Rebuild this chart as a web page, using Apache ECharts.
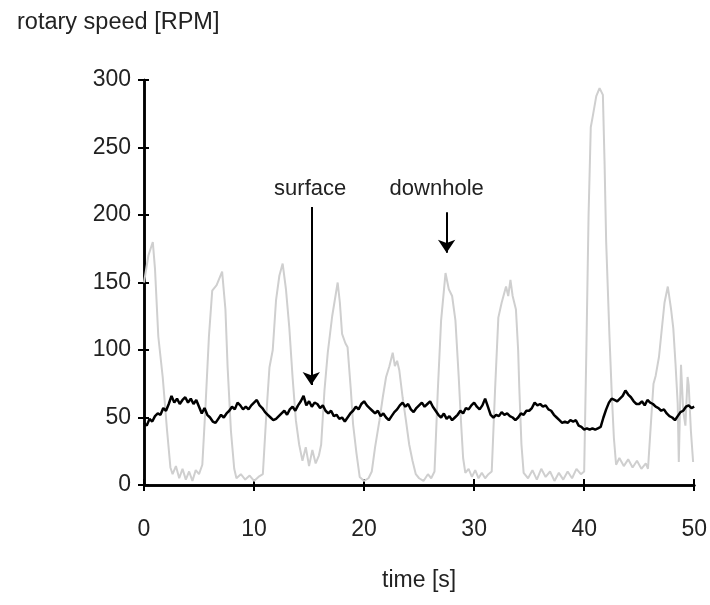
<!DOCTYPE html>
<html>
<head>
<meta charset="utf-8">
<script src="https://cdn.jsdelivr.net/npm/echarts@6/dist/echarts.min.js"></script>
<style>html,body{margin:0;padding:0;background:#fff}#c{width:710px;height:605px}</style>
</head>
<body>
<div id="c"></div>
<script>
// ---- data ----
const xTicks = [0, 10, 20, 30, 40, 50];
const yTicks = [0, 50, 100, 150, 200, 250, 300];

const downholeTime = [0,0.4,0.8,1.0,1.3,1.7,2.1,2.4,2.6,2.9,3.2,3.5,3.8,4.1,4.4,4.7,5.0,5.3,5.6,5.9,6.2,6.6,7.1,7.4,7.6,7.9,8.2,8.4,8.8,9.2,9.6,10.0,10.4,10.8,11.1,11.4,11.7,12.0,12.3,12.6,12.9,13.2,13.5,13.8,14.1,14.4,14.7,15.0,15.3,15.6,15.9,16.1,16.4,16.7,17.1,17.6,17.8,18.0,18.3,18.5,18.8,19.0,19.3,19.6,20.0,20.4,20.7,21.0,21.4,21.7,22.0,22.3,22.6,22.8,23.0,23.2,23.5,23.8,24.1,24.4,24.7,25.0,25.4,25.8,26.1,26.4,26.7,27.0,27.4,27.7,28.0,28.3,28.6,28.8,29.0,29.2,29.5,29.8,30.1,30.4,30.7,31.0,31.3,31.6,31.9,32.2,32.5,32.9,33.1,33.3,33.5,33.8,34.0,34.1,34.3,34.5,34.9,35.3,35.7,36.1,36.5,36.9,37.3,37.7,38.1,38.5,38.9,39.3,39.7,40.0,40.2,40.4,40.6,40.8,41.1,41.4,41.7,41.85,42.0,42.3,42.5,42.7,42.9,43.2,43.6,44.0,44.4,44.8,45.2,45.6,45.8,46.1,46.3,46.5,46.8,47.0,47.3,47.6,47.9,48.1,48.3,48.5,48.6,48.8,49.0,49.2,49.4,49.5,49.7,49.9];
const downholeRpm = [150,170,180,160,110,80,40,13,8,14,5,12,4,10,3,11,8,15,60,110,144,148,158,130,87,40,12,5,8,4,7,3,6,8,50,87,100,137,155,164,145,117,80,48,30,18,28,14,26,16,22,30,70,98,125,150,135,112,105,102,70,45,24,6,3,5,10,28,48,65,80,88,98,88,92,85,65,48,30,18,8,5,3,8,5,10,70,122,157,145,140,122,80,48,20,9,12,6,11,5,9,5,8,10,70,124,135,147,140,152,140,130,100,73,30,9,5,11,4,12,6,10,3,9,4,10,5,12,8,10,100,200,265,274,288,294,289,240,180,110,69,35,15,20,14,19,13,18,12,16,12,50,75,81,95,111,135,147,130,116,90,60,17,89,55,44,80,74,40,17];

const surfaceTime = [0,0.25,0.5,0.75,1,1.25,1.5,1.75,2,2.25,2.5,2.75,3,3.25,3.5,3.75,4,4.25,4.5,4.75,
5,5.25,5.5,5.75,6,6.25,6.5,6.75,7,7.25,7.5,7.75,8,8.25,8.5,8.75,9,9.25,9.5,9.75,
10,10.25,10.5,10.75,11,11.25,11.5,11.75,12,12.25,12.5,12.75,13,13.25,13.5,13.75,14,14.25,14.5,14.75,
15,15.25,15.5,15.75,16,16.25,16.5,16.75,17,17.25,17.5,17.75,18,18.25,18.5,18.75,19,19.25,19.5,19.75,
20,20.25,20.5,20.75,21,21.25,21.5,21.75,22,22.25,22.5,22.75,23,23.25,23.5,23.75,24,24.25,24.5,24.75,
25,25.25,25.5,25.75,26,26.25,26.5,26.75,27,27.25,27.5,27.75,28,28.25,28.5,28.75,29,29.25,29.5,29.75,
30,30.25,30.5,30.75,31,31.25,31.5,31.75,32,32.25,32.5,32.75,33,33.25,33.5,33.75,34,34.25,34.5,34.75,
35,35.25,35.5,35.75,36,36.25,36.5,36.75,37,37.25,37.5,37.75,38,38.25,38.5,38.75,39,39.25,39.5,39.75,
40,40.25,40.5,40.75,41,41.25,41.5,41.75,42,42.25,42.5,42.75,43,43.25,43.5,43.75,44,44.25,44.5,44.75,
45,45.25,45.5,45.75,46,46.25,46.5,46.75,47,47.25,47.5,47.75,48,48.25,48.5,48.75,49,49.25,49.5,49.75,50];
const surfaceRpm = [46,44,49,47,51,53,52,57,55,60,66,61,64,60,63,65,61,64,60,63,
58,53,57,52,50,47,46,49,52,50,53,55,58,56,61,59,56,58,56,59,
61,63,59,57,54,52,50,48,49,51,53,55,52,56,58,55,59,62,66,59,
62,58,61,60,57,59,55,53,55,51,52,49,50,47,50,53,55,58,56,60,
62,59,57,55,53,55,51,53,50,48,51,54,56,59,61,58,60,56,54,57,
59,61,58,60,62,58,55,52,50,53,49,51,48,50,52,55,53,57,56,59,
61,58,56,59,64,58,52,50,52,51,54,52,53,51,50,48,50,53,52,55,
55,57,61,59,60,58,59,56,55,52,50,48,46,47,46,48,47,48,44,43,
41,42,41,42,41,42,43,50,56,61,64,63,62,64,66,70,67,65,62,60,
60,62,59,63,61,60,58,57,55,56,53,51,50,48,51,54,55,58,59,57,58];

const annotations = [
  {name: 'surface', textT: 15.1, textV: 219, arrowT: 15.2, fromV: 206, toV: 74},
  {name: 'downhole', textT: 26.6, textV: 219, arrowT: 27.5, fromV: 202, toV: 172}
];

// ---- chart ----
const FONT = "'Liberation Sans Narrow', 'Liberation Sans', Arial, sans-serif";
const pair = (ts, vs) => ts.map((t, i) => [t, vs[i]]);
const chart = echarts.init(document.getElementById('c'), null, {renderer: 'canvas'});

const axisLine = {show: true, onZero: false, lineStyle: {color: '#000', width: 2.5}};
const baseX = {
  type: 'value', min: xTicks[0], max: xTicks[xTicks.length - 1], interval: 10,
  splitLine: {show: false}, axisLine: axisLine
};
const baseY = {
  type: 'value', min: yTicks[0], max: yTicks[yTicks.length - 1], interval: 50,
  splitLine: {show: false}, axisLine: axisLine
};

chart.setOption({
  animation: false,
  backgroundColor: '#fff',
  grid: {left: 144, right: 14, top: 80, bottom: 120, containLabel: false},
  title: {
    text: 'rotary speed [RPM]', left: 12, top: 6,
    textStyle: {fontFamily: FONT, fontSize: 23.5, fontWeight: 'normal', color: '#222'}
  },
  xAxis: [
    Object.assign({}, baseX, {
      name: 'time [s]', nameLocation: 'middle', nameGap: 84,
      nameTextStyle: {fontFamily: FONT, fontSize: 23, color: '#222'},
      axisTick: {show: true, length: 6, lineStyle: {color: '#000', width: 2}},
      axisLabel: {fontFamily: FONT, fontSize: 23, color: '#222', margin: 33}
    }),
    Object.assign({}, baseX, {
      position: 'bottom', offset: 0,
      axisTick: {show: true, inside: true, length: 6, lineStyle: {color: '#000', width: 2}},
      axisLabel: {show: false}
    })
  ],
  yAxis: [
    Object.assign({}, baseY, {
      axisTick: {show: true, length: 6, lineStyle: {color: '#000', width: 2}},
      axisLabel: {fontFamily: FONT, fontSize: 23, color: '#222', margin: 13}
    }),
    Object.assign({}, baseY, {
      position: 'left', offset: 0,
      axisTick: {show: true, inside: true, length: 5, lineStyle: {color: '#000', width: 2}},
      axisLabel: {show: false}
    })
  ],
  series: [
    {
      name: 'downhole', type: 'line', data: pair(downholeTime, downholeRpm),
      showSymbol: false, symbol: 'none', z: 2,
      lineStyle: {color: '#cfcfcf', width: 2}
    },
    {
      name: 'surface', type: 'line', data: pair(surfaceTime, surfaceRpm),
      showSymbol: false, symbol: 'none', z: 3,
      lineStyle: {color: '#000', width: 2.5},
      markLine: {
        silent: true, symbol: ['none', 'arrow'], symbolSize: 13,
        lineStyle: {color: '#000', width: 2, type: 'solid'},
        label: {show: false},
        data: annotations.map(a => [
          {coord: [a.arrowT, a.fromV]},
          {coord: [a.arrowT, a.toV]}
        ])
      },
      markPoint: {
        silent: true, symbol: 'circle', symbolSize: 0,
        label: {show: true, position: 'inside', fontFamily: FONT, fontSize: 22, color: '#222',
                formatter: p => p.name},
        data: annotations.map(a => ({name: a.name, coord: [a.textT, a.textV]}))
      }
    }
  ]
});
</script>
</body>
</html>
